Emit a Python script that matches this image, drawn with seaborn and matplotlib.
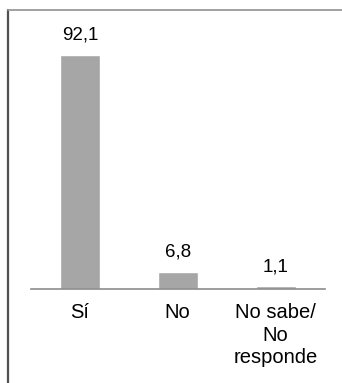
import matplotlib
matplotlib.use("Agg")
import matplotlib.pyplot as plt
from matplotlib.lines import Line2D
import seaborn as sns
import pandas as pd

categorias = ["Sí", "No", "No sabe/\nNo\nresponde"]
valores = [92.1, 6.8, 1.1]
etiquetas = ["92,1", "6,8", "1,1"]

sns.set_style("white")
plt.rcParams['font.family'] = ['Liberation Sans', 'DejaVu Sans']

W, H = 342, 383
fig = plt.figure(figsize=(W / 100, H / 100), dpi=100)
# axes in pixel coords: x 31..324.5, baseline y=289, top y=35 (ylim 0..100)
ax = fig.add_axes([31 / W, (H - 289) / H, (324.5 - 31) / W, 254 / H])

df = pd.DataFrame({"cat": categorias, "val": valores})
sns.barplot(data=df, x="cat", y="val", color="#a6a6a6", saturation=1,
            width=0.41, ax=ax)

ax.set_xlim(-0.5, 2.5)
ax.set_ylim(0, 100)
ax.set_xlabel("")
ax.set_ylabel("")
ax.set_yticks([])
for s in ["top", "right", "left"]:
    ax.spines[s].set_visible(False)
ax.spines["bottom"].set_color("#8c8c8c")
ax.spines["bottom"].set_linewidth(1.2)
ax.tick_params(axis="x", length=0, pad=10, labelsize=14.5, labelcolor="black")
for lbl in ax.get_xticklabels():
    lbl.set_linespacing(1.25)
    lbl.set_verticalalignment("top")

for i, (v, t) in enumerate(zip(valores, etiquetas)):
    ax.annotate(t, (i, v), xytext=(0, 8), textcoords="offset points",
                ha="center", va="bottom", fontsize=13.5, color="black")

# outer frame (left and top borders)
fig.add_artist(Line2D([8 / W, 8 / W], [0, 1 - 10 / H], color="#505050",
                      lw=1.6, transform=fig.transFigure))
fig.add_artist(Line2D([8 / W, 1], [1 - 10 / H, 1 - 10 / H], color="#9a9a9a",
                      lw=1.3, transform=fig.transFigure))

fig.savefig("out.png", dpi=100)
